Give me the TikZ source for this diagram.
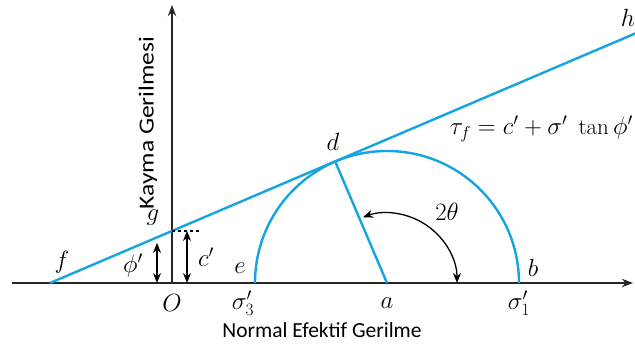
\documentclass[tikz,border=0pt]{standalone}
\usepackage{fontspec}
\newfontfamily\labelfont{Carlito}
\usetikzlibrary{arrows.meta,calc}

\definecolor{mohrblue}{RGB}{20,165,225}

\begin{document}
\begin{tikzpicture}[x=1pt,y=1pt,>=Stealth,
  ax/.style={->,line width=1.8pt,black!85},
  env/.style={line width=2.4pt,mohrblue},
  dim/.style={{Stealth[length=10pt,width=8pt]}-{Stealth[length=10pt,width=8pt]},line width=1.3pt},
  lbl/.style={font=\fontsize{23}{26}\selectfont,inner sep=1pt},
  axlbl/.style={font=\labelfont\fontsize{21.5}{25}\selectfont,inner sep=0pt}]
\useasboundingbox (-172,-69) rectangle (463,283);

% points of the diagram
\coordinate (O) at (0,0);
\coordinate (xs) at (-160,0);
\coordinate (xe) at (461,0);
\coordinate (ye) at (0,278);
\coordinate (f) at (-122,0);
\coordinate (g) at (0,52);
\coordinate (gd) at (30,52);
\coordinate (h) at (466,250.7);
\coordinate (a) at (215,0);
\coordinate (e) at (83,0);
\coordinate (b) at (347,0);
\coordinate (d) at ($(a)+(113.09:132)$);

% axes
\draw[ax] (xs) -- (xe);
\draw[ax] (O) -- (ye);

% failure envelope and circle
\draw[env] (f) -- (h);
\draw[env] (e) arc[start angle=180,end angle=0,radius=132];
\draw[env] (a) -- (d);

% c' and phi'
\draw[dashed,line width=1.2pt] (g) -- (gd);
\coordinate (c0) at (15,0);
\coordinate (c1) at (15,52);
\draw[dim] (c0) -- (c1);
\coordinate (p0) at (-15,0);
\coordinate (p1) at (-15,40);
\draw[dim] (p0) -- (p1);

% 2 theta
\coordinate (t0) at ($(a)+(0:70)$);
\draw[dim] (t0) arc[start angle=0,end angle=110,radius=70];

% labels
\node[lbl] (lf) at (-110,21) {$f$};
\node[lbl] (lg) at (-19,65) {$g$};
\node[lbl] (lO) at (0,-20) {$O$};
\node[lbl] (le) at (68,15) {$e$};
\node[lbl] (ls3) at (71,-20) {$\sigma'_3$};
\node[lbl] (la) at (215,-20) {$a$};
\node[lbl] (ls1) at (347,-20) {$\sigma'_1$};
\node[lbl] (lb) at (361,15) {$b$};
\node[lbl] (ld) at (161,141) {$d$};
\node[lbl] (lh) at (456,265) {$h$};
\node[lbl] (lc) at (34,26) {$c'$};
\node[lbl] (lp) at (-39,17) {$\phi'$};
\node[lbl] (lt) at (275,71) {$2\theta$};
\node[lbl,anchor=base east] (eq) at (462,148) {$\tau_f = c' + \sigma'\;\tan\phi'$};
\node[axlbl,rotate=90] (ylab) at (-24,160) {\resizebox{173pt}{\height}{Kayma Gerilmesi}};
\node[axlbl] (xlab) at (150,-47) {Normal Efektif Gerilme};
\end{tikzpicture}
\end{document}
